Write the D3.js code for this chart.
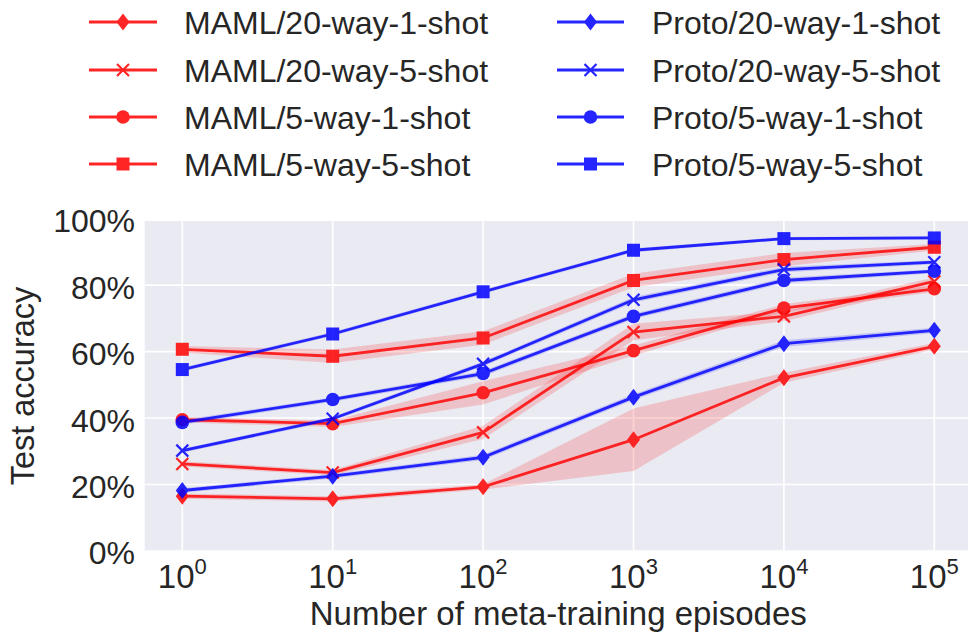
<!DOCTYPE html>
<html>
<head>
<meta charset="utf-8">
<script src="https://cdn.jsdelivr.net/npm/d3@7"></script>
<style>
  body { margin: 0; background: #fff; overflow: hidden; }
  text { font-family: "Liberation Sans", Arial, sans-serif; fill: #262626; }
</style>
</head>
<body>
<script>
// episodes on the x axis
var episodes = [1, 10, 100, 1000, 10000, 100000];

// mean test accuracy (%) per series
var maml20way1shot = [16.5, 15.7, 19.3, 33.5, 52.1, 61.6];
var maml20way5shot = [26.2, 23.6, 35.7, 65.9, 70.6, 81.1];
var maml5way1shot  = [39.5, 38.3, 47.6, 60.3, 73.1, 78.9];
var maml5way5shot  = [60.7, 58.6, 64.1, 81.4, 87.7, 91.4];
var proto20way1shot = [18.2, 22.5, 28.2, 46.3, 62.4, 66.4];
var proto20way5shot = [30.2, 39.8, 56.3, 75.6, 84.7, 86.9];
var proto5way1shot  = [38.7, 45.6, 53.4, 70.6, 81.4, 84.2];
var proto5way5shot  = [54.6, 65.3, 78.0, 90.5, 94.0, 94.2];

// spread (%) shown as shaded band
var maml20way1shotStd = [0.8, 0.8, 0.8, 9.4, 1.5, 1.0];
var maml20way5shotStd = [0.8, 0.8, 2.0, 2.5, 1.5, 1.2];
var maml5way1shotStd  = [0.8, 1.0, 3.5, 1.5, 1.2, 1.0];
var maml5way5shotStd  = [1.0, 2.0, 2.0, 2.0, 2.0, 1.0];
var proto20way1shotStd = [0.7, 0.7, 0.8, 0.9, 1.0, 0.8];
var proto20way5shotStd = [0.6, 0.6, 0.7, 0.8, 0.8, 0.6];
var proto5way1shotStd  = [0.7, 0.7, 0.8, 0.8, 0.8, 0.6];
var proto5way5shotStd  = [0.6, 0.6, 0.6, 0.6, 0.5, 0.5];

var yTicks = [0, 20, 40, 60, 80, 100];

var series = [
  {name: "MAML/20-way-1-shot", values: maml20way1shot, std: maml20way1shotStd, color: "#ff0000", marker: "diamond"},
  {name: "MAML/20-way-5-shot", values: maml20way5shot, std: maml20way5shotStd, color: "#ff0000", marker: "x"},
  {name: "MAML/5-way-1-shot", values: maml5way1shot, std: maml5way1shotStd, color: "#ff0000", marker: "circle"},
  {name: "MAML/5-way-5-shot", values: maml5way5shot, std: maml5way5shotStd, color: "#ff0000", marker: "square"},
  {name: "Proto/20-way-1-shot", values: proto20way1shot, std: proto20way1shotStd, color: "#0000ff", marker: "diamond"},
  {name: "Proto/20-way-5-shot", values: proto20way5shot, std: proto20way5shotStd, color: "#0000ff", marker: "x"},
  {name: "Proto/5-way-1-shot", values: proto5way1shot, std: proto5way1shotStd, color: "#0000ff", marker: "circle"},
  {name: "Proto/5-way-5-shot", values: proto5way5shot, std: proto5way5shotStd, color: "#0000ff", marker: "square"}
];

var width = 968, height = 635;
var plotLeft = 144.7, plotRight = 971.9, plotTop = 221, plotBottom = 551;

var svg = d3.select("body").append("svg")
    .attr("width", width)
    .attr("height", height);

var x = d3.scaleLog()
    .domain([Math.pow(10, -0.25), Math.pow(10, 5.25)])
    .range([plotLeft, plotRight]);

var y = d3.scaleLinear()
    .domain([0, 99.3])
    .range([plotBottom, plotTop]);

//Plot background
svg.append("rect")
    .attr("x", plotLeft)
    .attr("y", plotTop)
    .attr("width", plotRight - plotLeft)
    .attr("height", plotBottom - plotTop)
    .attr("fill", "#eaeaf2");

//Grid lines
svg.append("g").selectAll("line")
    .data(episodes)
    .enter().append("line")
    .attr("x1", function(d) { return x(d); })
    .attr("x2", function(d) { return x(d); })
    .attr("y1", plotTop)
    .attr("y2", plotBottom)
    .attr("stroke", "#fff")
    .attr("stroke-width", 1.6);

svg.append("g").selectAll("line")
    .data(yTicks.filter(function(d) { return y(d) > plotTop; }))
    .enter().append("line")
    .attr("x1", plotLeft)
    .attr("x2", plotRight)
    .attr("y1", function(d) { return y(d); })
    .attr("y2", function(d) { return y(d); })
    .attr("stroke", "#fff")
    .attr("stroke-width", 1.6);

//Tick labels
svg.append("g").selectAll("text")
    .data(yTicks)
    .enter().append("text")
    .attr("x", 135)
    .attr("y", function(d) { return y(d); })
    .attr("dy", "0.42em")
    .attr("text-anchor", "end")
    .attr("font-size", 32)
    .text(function(d) { return d + "%"; });

var xt = svg.append("g").selectAll("text")
    .data(episodes)
    .enter().append("text")
    .attr("x", function(d) { return x(d); })
    .attr("y", 588)
    .attr("text-anchor", "middle")
    .attr("font-size", 33);
xt.append("tspan").text("10");
xt.append("tspan")
    .attr("dy", -14)
    .attr("font-size", 22)
    .text(function(d) { return Math.round(Math.log10(d)); });

svg.append("text")
    .attr("x", (plotLeft + plotRight) / 2)
    .attr("y", 625)
    .attr("text-anchor", "middle")
    .attr("font-size", 33)
    .text("Number of meta-training episodes");

svg.append("text")
    .attr("transform", "translate(34," + ((plotTop + plotBottom) / 2) + ") rotate(-90)")
    .attr("text-anchor", "middle")
    .attr("font-size", 32.5)
    .text("Test accuracy");

//Markers
function drawMarker(g, type, color, cx, cy) {
  if (type === "diamond") {
    g.append("path")
      .attr("d", "M" + cx + "," + (cy - 8.5) + "L" + (cx + 6.5) + "," + cy + "L" + cx + "," + (cy + 8.5) + "L" + (cx - 6.5) + "," + cy + "Z")
      .attr("fill", color);
  } else if (type === "square") {
    g.append("rect")
      .attr("x", cx - 6.5).attr("y", cy - 6.5)
      .attr("width", 13).attr("height", 13)
      .attr("fill", color);
  } else if (type === "circle") {
    g.append("circle")
      .attr("cx", cx).attr("cy", cy).attr("r", 6.8)
      .attr("fill", color);
  } else {
    g.append("path")
      .attr("d", "M" + (cx - 6) + "," + (cy - 6) + "L" + (cx + 6) + "," + (cy + 6) +
                 "M" + (cx - 6) + "," + (cy + 6) + "L" + (cx + 6) + "," + (cy - 6))
      .attr("stroke", color)
      .attr("stroke-width", 2.2)
      .attr("fill", "none");
  }
}

var plot = svg.append("g");

var area = d3.area()
    .x(function(d, i) { return x(episodes[i]); })
    .y0(function(d) { return y(d[0] - d[1]); })
    .y1(function(d) { return y(d[0] + d[1]); });

var line = d3.line()
    .x(function(d, i) { return x(episodes[i]); })
    .y(function(d) { return y(d); });

series.forEach(function(s) {
  var g = plot.append("g").attr("opacity", 0.85);
  var pairs = s.values.map(function(v, i) { return [v, s.std[i]]; });

  g.append("path")
    .attr("d", area(pairs))
    .attr("fill", s.color)
    .attr("fill-opacity", 0.2);

  g.append("path")
    .attr("d", line(s.values))
    .attr("fill", "none")
    .attr("stroke", s.color)
    .attr("stroke-width", 2.8);

  s.values.forEach(function(v, i) {
    drawMarker(g, s.marker, s.color, x(episodes[i]), y(v));
  });
});

//Legend
var legendRows = [22, 70, 117, 164];
var legendCols = [{x1: 89, x2: 157, tx: 184}, {x1: 557, x2: 624, tx: 652}];

series.forEach(function(s, i) {
  var col = legendCols[Math.floor(i / 4)];
  var ry = legendRows[i % 4];
  var g = svg.append("g").attr("opacity", 0.85);
  g.append("line")
    .attr("x1", col.x1).attr("x2", col.x2)
    .attr("y1", ry).attr("y2", ry)
    .attr("stroke", s.color)
    .attr("stroke-width", 2.8);
  drawMarker(g, s.marker, s.color, (col.x1 + col.x2) / 2, ry);
  svg.append("text")
    .attr("x", col.tx)
    .attr("y", ry)
    .attr("dy", "0.36em")
    .attr("font-size", 32)
    .text(s.name);
});
</script>
</body>
</html>
